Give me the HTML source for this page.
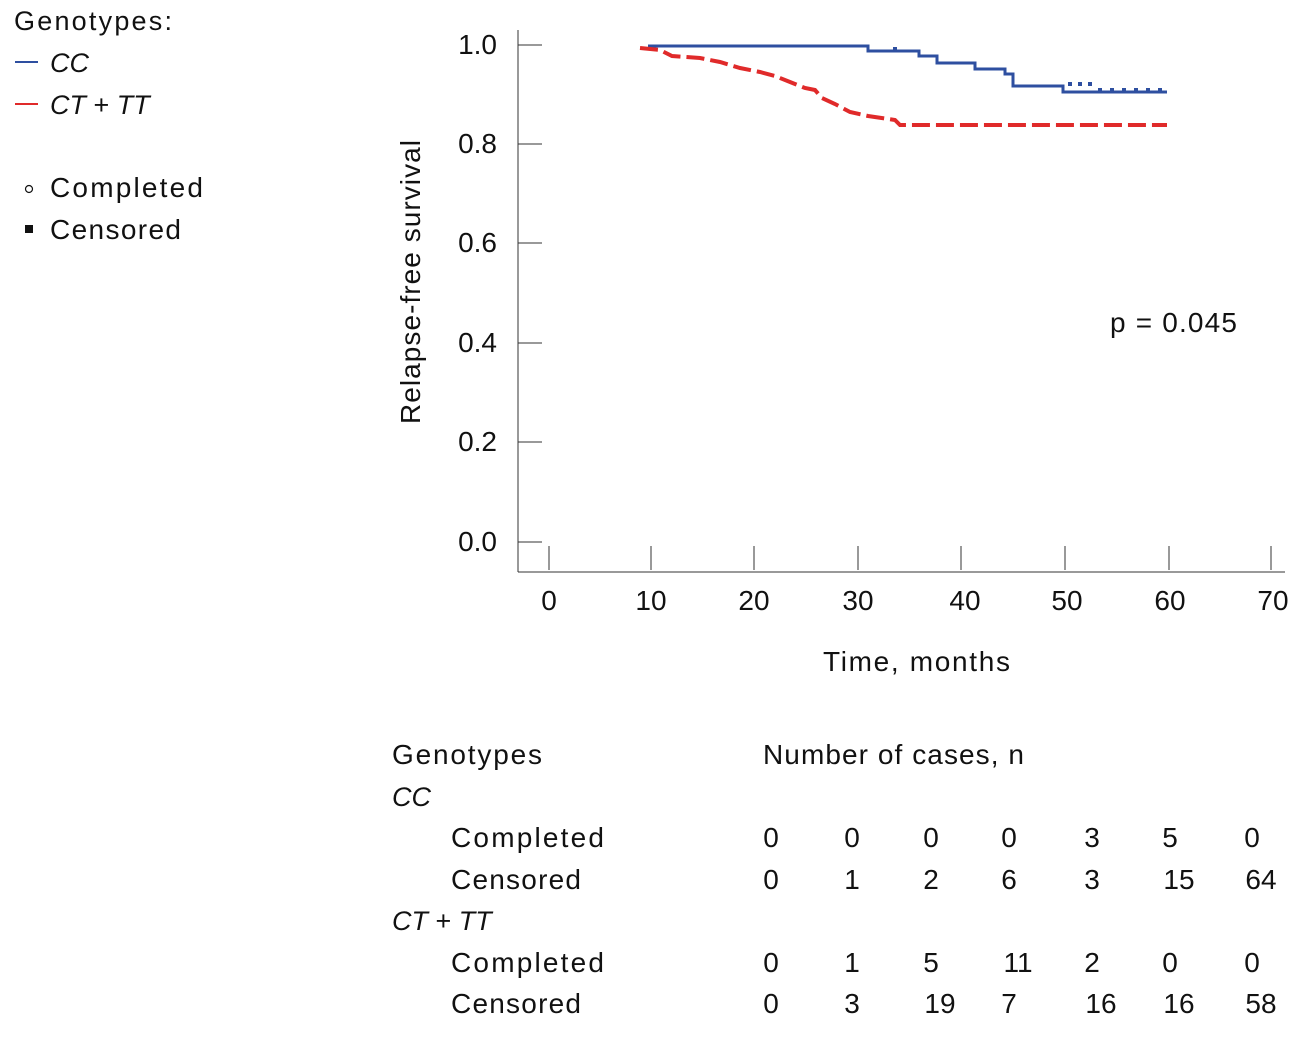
<!DOCTYPE html><html><head><style>body{margin:0;background:#fff}svg text{font-family:"Liberation Sans",sans-serif;fill:#111}</style></head><body>
<svg width="1299" height="1048" viewBox="0 0 1299 1048" xmlns="http://www.w3.org/2000/svg">
<text x="14" y="30" font-size="27" textLength="158">Genotypes:</text>
<line x1="15" y1="62" x2="38" y2="62" stroke="#2e4fa0" stroke-width="2"/>
<text x="50" y="72" font-size="27" font-style="italic">CC</text>
<line x1="15" y1="104" x2="38" y2="104" stroke="#e02a2a" stroke-width="2"/>
<text x="50" y="114" font-size="27"><tspan font-style="italic">CT</tspan> + <tspan font-style="italic">TT</tspan></text>
<circle cx="29" cy="189" r="3.5" fill="none" stroke="#111" stroke-width="1.2"/>
<text x="50" y="197" font-size="28" textLength="153">Completed</text>
<rect x="25" y="225" width="8" height="8" fill="#111"/>
<text x="50" y="239" font-size="28" textLength="131">Censored</text>
<g stroke="#333" stroke-width="1">
<line x1="518" y1="30" x2="518" y2="572"/>
<line x1="518" y1="572" x2="1285" y2="572"/>
<line x1="518" y1="45" x2="542" y2="45"/><line x1="518" y1="144" x2="542" y2="144"/><line x1="518" y1="243" x2="542" y2="243"/><line x1="518" y1="343" x2="542" y2="343"/><line x1="518" y1="442" x2="542" y2="442"/><line x1="518" y1="542" x2="542" y2="542"/>
<line x1="549" y1="546" x2="549" y2="570"/><line x1="651" y1="546" x2="651" y2="570"/><line x1="754" y1="546" x2="754" y2="570"/><line x1="858" y1="546" x2="858" y2="570"/><line x1="961" y1="546" x2="961" y2="570"/><line x1="1065" y1="546" x2="1065" y2="570"/><line x1="1169" y1="546" x2="1169" y2="570"/><line x1="1271" y1="546" x2="1271" y2="570"/>
</g>
<g font-size="28" text-anchor="end"><text x="497" y="54">1.0</text><text x="497" y="153">0.8</text><text x="497" y="252">0.6</text><text x="497" y="352">0.4</text><text x="497" y="451">0.2</text><text x="497" y="551">0.0</text></g>
<g font-size="28" text-anchor="middle"><text x="549" y="610">0</text><text x="651" y="610">10</text><text x="754" y="610">20</text><text x="858" y="610">30</text><text x="965" y="610">40</text><text x="1067" y="610">50</text><text x="1170" y="610">60</text><text x="1273" y="610">70</text></g>
<text x="823" y="671" font-size="28" textLength="187">Time, months</text>
<text transform="translate(420,282) rotate(-90)" font-size="28" text-anchor="middle" textLength="284">Relapse-free survival</text>
<text x="1110" y="332" font-size="28" textLength="127">p = 0.045</text>
<polyline fill="none" stroke="#2e4fa0" stroke-width="3" points="648,46 868,46 868,51 919,51 919,56 937,56 937,63 975,63 975,69 1005,69 1005,74 1013,74 1013,86 1063,86 1063,92 1167,92"/>
<g fill="#2e4fa0"><rect x="1068" y="82" width="4" height="4"/><rect x="1078" y="82" width="4" height="4"/><rect x="1088" y="82" width="4" height="4"/><rect x="1098" y="88" width="4" height="4"/><rect x="1110" y="88" width="4" height="4"/><rect x="1122" y="88" width="4" height="4"/><rect x="1134" y="88" width="4" height="4"/><rect x="1146" y="88" width="4" height="4"/><rect x="1158" y="88" width="4" height="4"/><rect x="893" y="47" width="4" height="4"/></g>
<polyline fill="none" stroke="#e02a2a" stroke-width="4" stroke-dasharray="18,6" points="640,48 660,50 672,56 700,58 720,62 740,68 760,72 775,76 790,82 805,88 815,90 822,98 835,104 850,112 868,116 895,120 900,125 1167,125"/>
<text x="392" y="764" font-size="28" textLength="150">Genotypes</text>
<text x="763" y="764" font-size="28" textLength="261">Number of cases, n</text>
<text x="392" y="806" font-size="27" font-style="italic">CC</text>
<text x="451" y="847" font-size="28" textLength="153">Completed</text>
<text x="451" y="889" font-size="28" textLength="130">Censored</text>
<text x="392" y="930" font-size="27"><tspan font-style="italic">CT</tspan> + <tspan font-style="italic">TT</tspan></text>
<text x="451" y="972" font-size="28" textLength="153">Completed</text>
<text x="451" y="1013" font-size="28" textLength="130">Censored</text>
<g font-size="28" text-anchor="middle">
<text x="771" y="847">0</text><text x="852" y="847">0</text><text x="931" y="847">0</text><text x="1009" y="847">0</text><text x="1092" y="847">3</text><text x="1170" y="847">5</text><text x="1252" y="847">0</text>
<text x="771" y="889">0</text><text x="852" y="889">1</text><text x="931" y="889">2</text><text x="1009" y="889">6</text><text x="1092" y="889">3</text><text x="1179" y="889">15</text><text x="1261" y="889">64</text>
<text x="771" y="972">0</text><text x="852" y="972">1</text><text x="931" y="972">5</text><text x="1018" y="972">11</text><text x="1092" y="972">2</text><text x="1170" y="972">0</text><text x="1252" y="972">0</text>
<text x="771" y="1013">0</text><text x="852" y="1013">3</text><text x="940" y="1013">19</text><text x="1009" y="1013">7</text><text x="1101" y="1013">16</text><text x="1179" y="1013">16</text><text x="1261" y="1013">58</text>
</g>
</svg></body></html>
